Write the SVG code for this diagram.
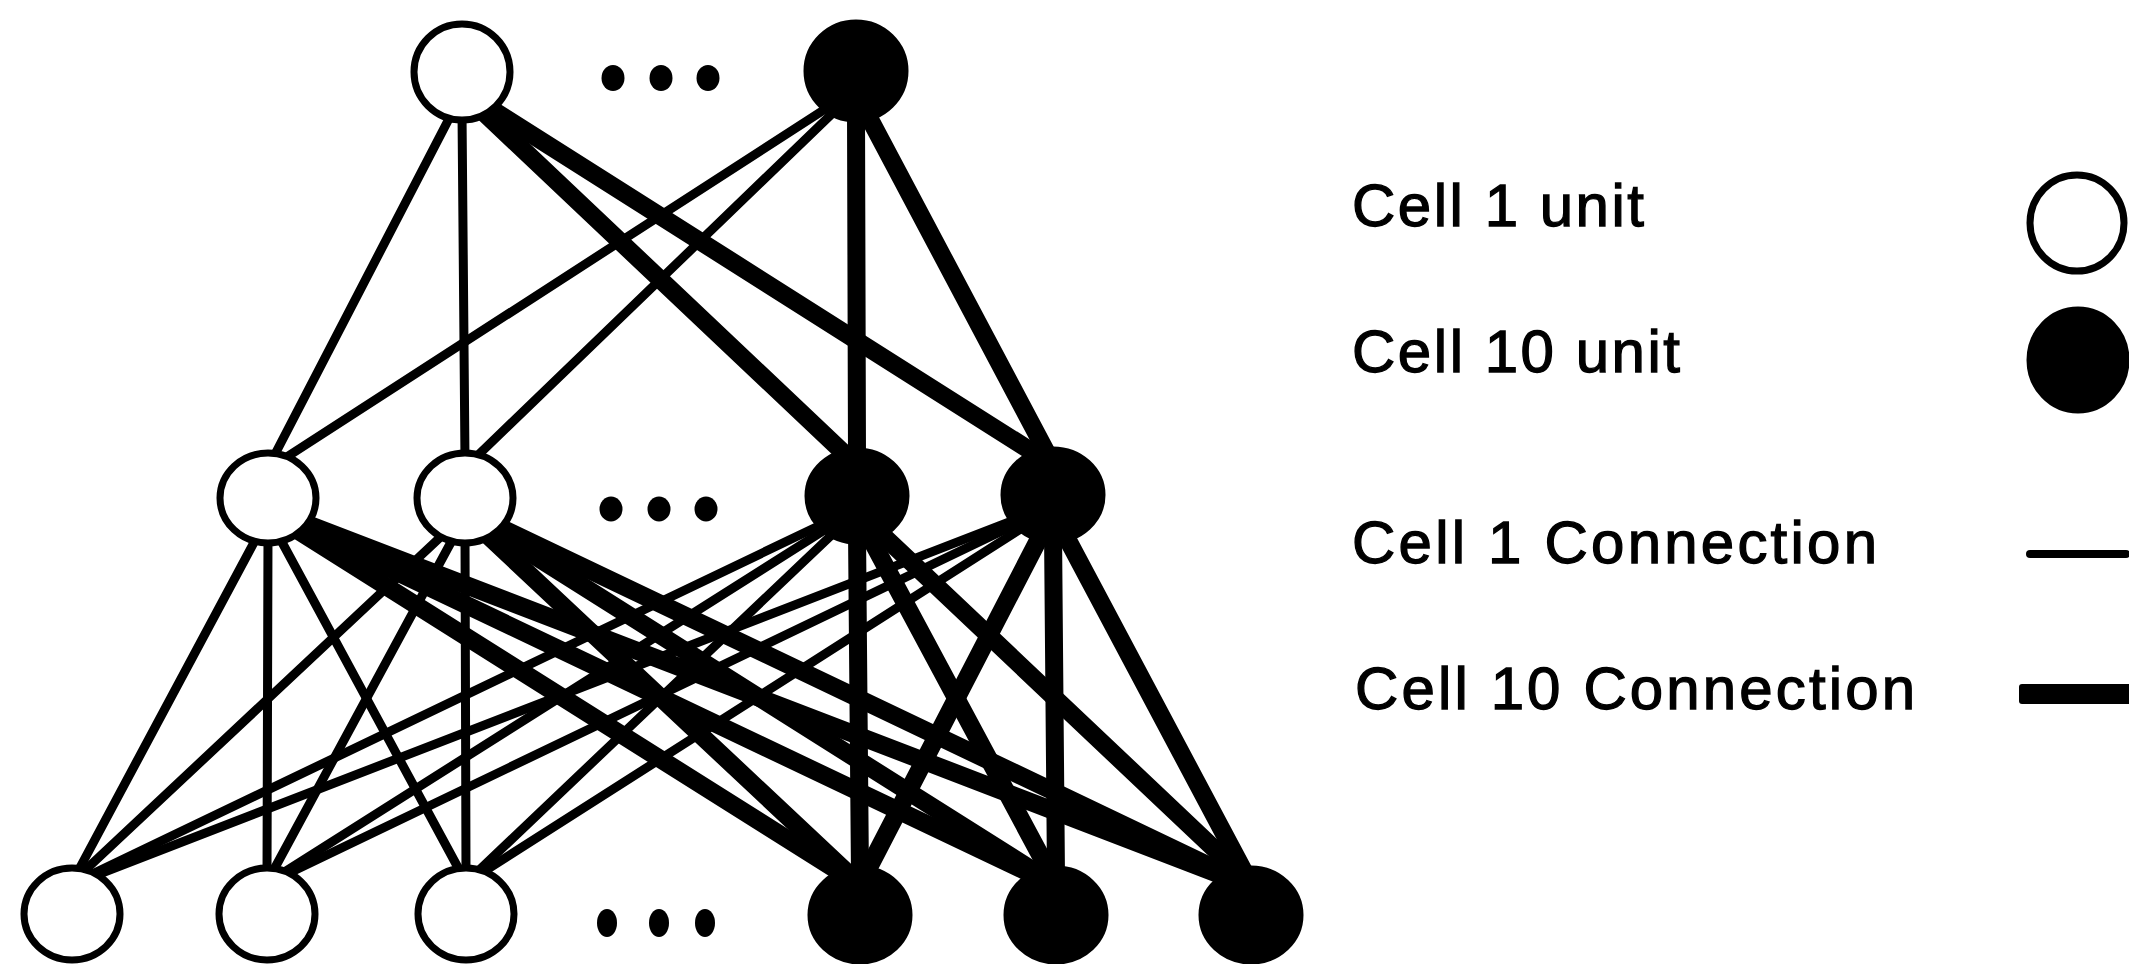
<svg xmlns="http://www.w3.org/2000/svg" width="2129" height="964" viewBox="0 0 2129 964">
<style>
.thin{stroke:#000;stroke-width:9;fill:none;stroke-linecap:round}
.thick{stroke:#000;stroke-width:18;fill:none;stroke-linecap:round}
.w{fill:#fff;stroke:#000;stroke-width:7}
.b{fill:#000;stroke:#000;stroke-width:7}
.dot{fill:#000}
.lbl{font-family:"Liberation Sans",Arial,sans-serif;font-size:60px;fill:#000;stroke:#000;stroke-width:1.3}
</style>
<rect width="2129" height="964" fill="#fff"/>
<g id="connectors">
<!-- top to middle -->
<line class="thin" x1="453" y1="111" x2="272" y2="460"/>
<line class="thin" x1="462" y1="112" x2="465" y2="460"/>
<line class="thick" x1="479" y1="108" x2="849" y2="458"/>
<line class="thick" x1="485" y1="105" x2="1042" y2="458"/>
<line class="thin" x1="833" y1="104" x2="279" y2="462"/>
<line class="thin" x1="839" y1="107" x2="472" y2="461"/>
<line class="thick" x1="856" y1="111" x2="857" y2="457"/>
<line class="thick" x1="865" y1="110" x2="1049" y2="457"/>
<!-- M1 -->
<line class="thin" x1="259" y1="533" x2="76" y2="875"/>
<line class="thin" x1="268" y1="534" x2="267" y2="875"/>
<line class="thin" x1="277" y1="533" x2="462" y2="875"/>
<line class="thick" x1="292" y1="527" x2="849" y2="878"/>
<line class="thick" x1="296" y1="524" x2="1042" y2="879"/>
<line class="thick" x1="299" y1="521" x2="1234" y2="880"/>
<!-- M2 -->
<line class="thin" x1="448" y1="530" x2="80" y2="875"/>
<line class="thin" x1="456" y1="533" x2="271" y2="875"/>
<line class="thin" x1="465" y1="534" x2="466" y2="875"/>
<line class="thick" x1="482" y1="530" x2="852" y2="877"/>
<line class="thick" x1="489" y1="527" x2="1045" y2="878"/>
<line class="thick" x1="493" y1="524" x2="1237" y2="879"/>
<!-- M3 -->
<line class="thin" x1="829" y1="521" x2="86" y2="877"/>
<line class="thin" x1="834" y1="524" x2="278" y2="876"/>
<line class="thin" x1="840" y1="527" x2="474" y2="875"/>
<line class="thick" x1="857" y1="531" x2="860" y2="877"/>
<line class="thick" x1="866" y1="530" x2="1052" y2="877"/>
<line class="thick" x1="874" y1="527" x2="1244" y2="877"/>
<!-- M4 -->
<line class="thin" x1="1022" y1="517" x2="89" y2="878"/>
<line class="thin" x1="1025" y1="520" x2="281" y2="877"/>
<line class="thin" x1="1030" y1="523" x2="477" y2="876"/>
<line class="thick" x1="1044" y1="529" x2="864" y2="877"/>
<line class="thick" x1="1053" y1="530" x2="1056" y2="877"/>
<line class="thick" x1="1062" y1="529" x2="1247" y2="877"/>
</g>
<g id="top-1"><ellipse class="w" cx="462" cy="72" rx="48" ry="48"/></g>
<g id="top-dots"><ellipse class="dot" cx="613" cy="78" rx="11.5" ry="13"/><ellipse class="dot" cx="661" cy="78" rx="11.5" ry="13"/><ellipse class="dot" cx="708" cy="78" rx="11.5" ry="13"/></g>
<g id="top-2"><ellipse class="b" cx="856" cy="71" rx="49" ry="48"/></g>
<g id="mid-1"><ellipse class="w" cx="268" cy="498" rx="48" ry="45"/></g>
<g id="mid-2"><ellipse class="w" cx="465" cy="498" rx="48" ry="45"/></g>
<g id="mid-dots"><ellipse class="dot" cx="611" cy="509" rx="11.5" ry="12.5"/><ellipse class="dot" cx="659" cy="509" rx="11.5" ry="12.5"/><ellipse class="dot" cx="706" cy="509" rx="11.5" ry="12.5"/></g>
<g id="mid-3"><ellipse class="b" cx="857" cy="496" rx="49" ry="45"/></g>
<g id="mid-4"><ellipse class="b" cx="1053" cy="495" rx="49" ry="45"/></g>
<g id="bot-1"><ellipse class="w" cx="72" cy="914" rx="48" ry="46"/></g>
<g id="bot-2"><ellipse class="w" cx="267" cy="914" rx="48" ry="46"/></g>
<g id="bot-3"><ellipse class="w" cx="466" cy="914" rx="48" ry="46"/></g>
<g id="bot-dots"><ellipse class="dot" cx="607" cy="923" rx="10" ry="14"/><ellipse class="dot" cx="659" cy="923" rx="10" ry="14"/><ellipse class="dot" cx="705" cy="923" rx="10" ry="14"/></g>
<g id="bot-4"><ellipse class="b" cx="860" cy="915" rx="49" ry="46"/></g>
<g id="bot-5"><ellipse class="b" cx="1056" cy="915" rx="49" ry="46"/></g>
<g id="bot-6"><ellipse class="b" cx="1251" cy="915" rx="49" ry="46"/></g>
<g id="legend">
<text class="lbl" x="1352" y="226" textLength="292" lengthAdjust="spacing">Cell 1 unit</text>
<text class="lbl" x="1352" y="372" textLength="328" lengthAdjust="spacing">Cell 10 unit</text>
<text class="lbl" x="1352" y="563" textLength="525" lengthAdjust="spacing">Cell 1 Connection</text>
<text class="lbl" x="1355" y="709" textLength="560" lengthAdjust="spacing">Cell 10 Connection</text>
<ellipse class="w" cx="2077" cy="223" rx="47" ry="48"/>
<ellipse class="b" cx="2078" cy="360" rx="48" ry="50"/>
<line x1="2030" y1="554" x2="2126" y2="554" stroke="#000" stroke-width="8" stroke-linecap="round"/>
<rect x="2019" y="684" width="115" height="20" rx="3" fill="#000"/>
</g>
</svg>
